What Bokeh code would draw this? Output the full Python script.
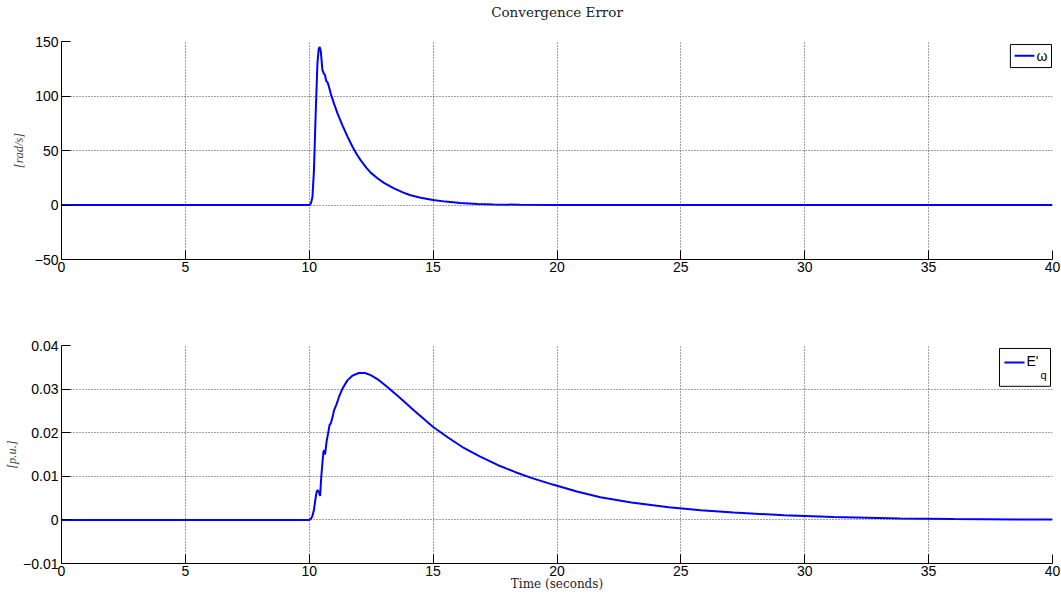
from bokeh.plotting import figure
from bokeh.layouts import column
from bokeh.models import FixedTicker, BoxAnnotation, PolyAnnotation, Label
from bokeh.embed import file_html
from bokeh.resources import INLINE

# ---- data ----
t_omega = [0, 10.0, 10.07, 10.13, 10.19, 10.26, 10.33, 10.38, 10.42, 10.46, 10.49, 10.53,
           10.58, 10.64, 10.68, 10.75, 10.8, 10.87, 11.0, 11.14, 11.34, 11.54, 11.74, 11.94,
           12.08, 12.3, 12.48, 12.75, 13.0, 13.29, 13.42, 13.8, 14.09, 14.5, 15.0, 15.5,
           16.1, 16.8, 17.45, 18.5, 20, 25, 30, 35, 40]
omega = [0, 0, 1.5, 7.6, 32, 84, 130, 143, 145, 142, 135, 124,
         121, 119, 114, 112, 108, 102, 93, 84, 73, 63, 53.7, 45.7,
         40.9, 34.3, 29.7, 24.5, 20.5, 16.8, 15.2, 11.4, 9.0, 6.6, 4.6, 3.1,
         1.9, 1.0, 0.55, 0.2, 0.05, 0, 0, 0, 0]

t_eq = [0, 10.0, 10.06, 10.12, 10.19, 10.25, 10.3, 10.35, 10.4, 10.44, 10.48, 10.53,
        10.57, 10.6, 10.64, 10.7, 10.76, 10.82, 10.87, 10.95, 11.0, 11.1, 11.2, 11.35,
        11.54, 11.75, 12.0, 12.25, 12.48, 12.8, 13.15, 13.6, 14.23, 15.0, 15.6, 16.24,
        16.9, 17.6, 18.3, 18.93, 19.83, 20.8, 21.75, 23.0, 24.51, 25.8, 27.13, 29.17,
        31.16, 33.85, 36.0, 38.5, 40]
eq = [0, 0, 0.0002, 0.0008, 0.0023, 0.0048, 0.0065, 0.0068, 0.0062, 0.0055, 0.0095, 0.013,
      0.0155, 0.016, 0.015, 0.018, 0.0198, 0.0218, 0.0221, 0.0238, 0.0251, 0.0265, 0.0282, 0.0302,
      0.032, 0.0331, 0.0337, 0.0337, 0.0332, 0.0321, 0.0305, 0.0283, 0.0251, 0.0213, 0.0189, 0.0165,
      0.0145, 0.0126, 0.0110, 0.0097, 0.0081, 0.0065, 0.0052, 0.0040, 0.0029, 0.0022, 0.00168, 0.00107,
      0.00066, 0.0003, 0.0002, 0.00012, 0.0001]

x_ticks = [0, 5, 10, 15, 20, 25, 30, 35, 40]
x_tick_labels = ["0", "5", "10", "15", "20", "25", "30", "35", "40"]
omega_ticks = [-50, 0, 50, 100, 150]
omega_tick_labels = ["\u221250", "0", "50", "100", "150"]
eq_ticks = [-0.01, 0, 0.01, 0.02, 0.03, 0.04]
eq_tick_labels = ["\u22120.01", "0", "0.01", "0.02", "0.03", "0.04"]

title_text = "Convergence Error"
omega_ylabel = "[rad/s]"
eq_ylabel = "[p.u.]"
x_label = "Time (seconds)"

BLUE = "#0000ff"
SANS = "Liberation Sans"
SERIF = "DejaVu Serif"


def style(p, yticks, ylabels):
    p.xaxis.ticker = FixedTicker(ticks=x_ticks)
    p.xaxis.major_label_overrides = {t: l for t, l in zip(x_ticks, x_tick_labels)}
    p.yaxis.ticker = FixedTicker(ticks=yticks)
    p.yaxis.major_label_overrides = {t: l for t, l in zip(yticks, ylabels)}
    for ax in (p.xaxis[0], p.yaxis[0]):
        ax.major_tick_in = 9
        ax.major_tick_out = 0
        ax.minor_tick_line_color = None
        ax.axis_line_color = "black"
        ax.axis_line_width = 1
        ax.major_tick_line_color = "black"
        ax.major_label_text_font = SANS
        ax.major_label_text_font_size = "14px"
        ax.major_label_text_color = "black"
    p.xaxis.major_label_standoff = 2
    p.yaxis.major_label_standoff = 3
    p.grid.grid_line_color = "#444444"
    p.grid.grid_line_dash = "1 2"
    p.grid.grid_line_width = 1
    p.outline_line_color = None
    p.background_fill_color = "white"
    p.border_fill_color = "white"


# ---- title strip: same horizontal frame as the panels, so the title centres over them ----
tfig = figure(width=1061, height=24, x_range=(0, 40), y_range=(0, 24),
              output_backend="svg", toolbar_location=None,
              min_border_left=61, min_border_right=9, min_border_top=0, min_border_bottom=0,
              x_axis_location=None, y_axis_location=None)
tfig.grid.visible = False
tfig.outline_line_color = None
tfig.add_layout(Label(x=20, y=12.5, text=title_text, text_align="center", text_baseline="middle",
                      text_font=SERIF, text_font_size="13.5px", text_color="#222222"))

# ---- upper panel ----
top = figure(width=1061, height=276, x_range=(0, 40), y_range=(-50, 150),
             output_backend="svg", toolbar_location=None,
             min_border_left=61, min_border_right=9, min_border_top=17, min_border_bottom=41)
style(top, omega_ticks, omega_tick_labels)
top.line(t_omega, omega, line_color=BLUE, line_width=2)
top.yaxis.axis_label = omega_ylabel
top.yaxis.axis_label_text_font = "Liberation Serif"
top.yaxis.axis_label_text_font_style = "italic"
top.yaxis.axis_label_text_font_size = "12.5px"
top.yaxis.axis_label_text_color = "#444444"
top.yaxis.axis_label_standoff = 6

# legend (top)
top.add_layout(BoxAnnotation(left=38.30, right=39.96, bottom=126.1, top=147.2,
                             fill_color="white", fill_alpha=1.0,
                             line_color="black", line_width=1, line_alpha=1.0))
top.add_layout(PolyAnnotation(xs=[38.47, 39.27], ys=[137.0, 137.0], line_color=BLUE,
                              line_width=2, line_alpha=1.0, fill_alpha=0))
top.add_layout(Label(x=39.35, y=137.0, text="\u03c9", text_baseline="middle", text_align="left",
                     text_font=SANS, text_font_size="14px", text_color="black"))

# ---- lower panel ----
bot = figure(width=1061, height=293, x_range=(0, 40), y_range=(-0.01, 0.04),
             output_backend="svg", toolbar_location=None,
             min_border_left=61, min_border_right=9, min_border_top=45, min_border_bottom=29)
style(bot, eq_ticks, eq_tick_labels)
bot.line(t_eq, eq, line_color=BLUE, line_width=2)
bot.yaxis.axis_label = eq_ylabel
bot.yaxis.axis_label_text_font = "Liberation Serif"
bot.yaxis.axis_label_text_font_style = "italic"
bot.yaxis.axis_label_text_font_size = "12.5px"
bot.yaxis.axis_label_text_color = "#444444"
bot.yaxis.axis_label_standoff = 1
bot.xaxis.axis_label = x_label
bot.xaxis.axis_label_text_font = SERIF
bot.xaxis.axis_label_text_font_style = "normal"
bot.xaxis.axis_label_text_font_size = "12px"
bot.xaxis.axis_label_text_color = "#222222"
bot.xaxis.axis_label_text_line_height = 0.9
bot.xaxis.axis_label_standoff = -2

# legend (bottom)
bot.add_layout(BoxAnnotation(left=37.86, right=39.92, bottom=0.03064, top=0.03932,
                             fill_color="white", fill_alpha=1.0,
                             line_color="black", line_width=1, line_alpha=1.0))
bot.add_layout(PolyAnnotation(xs=[38.06, 38.87], ys=[0.0361, 0.0361], line_color=BLUE,
                              line_width=2, line_alpha=1.0, fill_alpha=0))
bot.add_layout(Label(x=38.95, y=0.0364, text="E'", text_baseline="middle", text_align="left",
                     text_font=SANS, text_font_size="14px", text_color="black"))
bot.add_layout(Label(x=39.52, y=0.0333, text="q", text_baseline="middle", text_align="left",
                     text_font=SANS, text_font_size="11px", text_color="black"))

layout = column(tfig, top, bot, spacing=0)
open("out.html", "w").write(file_html(layout, INLINE))
